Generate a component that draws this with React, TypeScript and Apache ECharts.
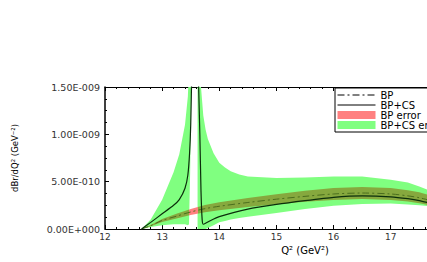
import React, { useEffect, useRef } from "react";
import * as echarts from "echarts";

// Values in units of 1e-9 GeV^-2
// BP central (dash-dot)
const bpX = [12.64, 12.8, 13.0, 13.25, 13.5, 13.75, 14.0, 14.5, 15.0, 15.5, 16.0, 16.5, 17.0, 17.3, 17.5, 17.7];
const bpY = [0, 0.035, 0.09, 0.135, 0.18, 0.215, 0.24, 0.28, 0.315, 0.345, 0.37, 0.38, 0.37, 0.35, 0.33, 0.3];
// BP error band
const bpErrLo = [0, 0.028, 0.074, 0.11, 0.148, 0.177, 0.198, 0.232, 0.262, 0.287, 0.307, 0.316, 0.307, 0.29, 0.273, 0.248];
const bpErrHi = [0, 0.042, 0.106, 0.16, 0.212, 0.253, 0.282, 0.328, 0.368, 0.403, 0.433, 0.444, 0.433, 0.41, 0.387, 0.352];

// BP+CS central (solid), left and right of the resonance
const csLeftX = [12.64, 12.8, 13.0, 13.2, 13.3, 13.4, 13.45, 13.48, 13.5, 13.52];
const csLeftY = [0, 0.07, 0.16, 0.25, 0.31, 0.43, 0.57, 0.8, 1.1, 1.7];
const csRightX = [13.63, 13.66, 13.68, 13.7, 13.72, 13.76, 13.85, 14.0, 14.5, 15.0, 15.5, 16.0, 16.5, 17.0, 17.3, 17.5, 17.7];
const csRightY = [1.7, 1.0, 0.4, 0.1, 0.05, 0.06, 0.09, 0.13, 0.21, 0.26, 0.3, 0.335, 0.35, 0.34, 0.32, 0.3, 0.27];

// BP+CS error band, left lobe
const gLeftX = [12.64, 12.8, 13.0, 13.2, 13.3, 13.4, 13.45, 13.47, 13.49, 13.51];
const gLeftLo = [0, 0.02, 0.04, 0.05, 0.05, 0.05, 0.04, 0.05, 0.6, 1.7];
const gLeftHi = [0, 0.1, 0.31, 0.6, 0.79, 1.1, 1.4, 1.7, 1.7, 1.7];
// BP+CS error band, right lobe
const gRightX = [13.62, 13.64, 13.68, 13.72, 13.76, 13.8, 13.9, 14.0, 14.1, 14.2, 14.35, 14.5, 15.0, 15.5, 16.0, 16.5, 17.0, 17.3, 17.5, 17.7];
const gRightLo = [0, 0, 0, 0, 0, 0.01, 0.04, 0.07, 0.085, 0.1, 0.115, 0.13, 0.17, 0.21, 0.245, 0.265, 0.27, 0.26, 0.25, 0.24];
const gRightHi = [1.7, 1.7, 1.5, 1.2, 1.05, 0.95, 0.8, 0.7, 0.65, 0.61, 0.575, 0.555, 0.54, 0.545, 0.555, 0.555, 0.52, 0.49, 0.45, 0.4];

const yTicks = [0, 0.5, 1.0, 1.5];
const xLabels = [12, 13, 14, 15, 16, 17, 18, 19];
const lastVisibleXLabel = 17;
// x-range where the BP error band lies outside the green band (drawn pink)
const bpErrGap = [13.475, 13.625];

const GREEN = "#80ff80";
const PINK = "#ff8080";
const OLIVE = "#86a83e";
const FONT = "DejaVu Sans";

const pairs = (xs: number[], ys: number[]) => xs.map((x, i) => [x, ys[i]]);

const sci = (v: number) => {
  if (Math.abs(v) < 1e-12) return "0.00E+000";
  const real = v * 1e-9;
  const e = Math.floor(Math.log10(real) + 1e-9);
  const m = real / Math.pow(10, e);
  return `${m.toFixed(2)}E${e < 0 ? "-" : "+"}${String(Math.abs(e)).padStart(3, "0")}`;
};

const band = (name: string, xs: number[], lo: number[], hi: number[], color: string, z: number, gradient = false) => ({
  name,
  type: "custom",
  coordinateSystem: "cartesian2d",
  clip: true,
  z,
  itemStyle: { color },
  data: xs.map((x, i) => [x, lo[i], hi[i]]),
  encode: { x: 0, y: [1, 2] },
  renderItem: (params: any, api: any) => {
    if (params.dataIndex !== 0) return null;
    const pts: number[][] = [];
    xs.forEach((x, i) => pts.push(api.coord([x, lo[i]])));
    for (let i = xs.length - 1; i >= 0; i--) pts.push(api.coord([xs[i], hi[i]]));
    let fill: any = color;
    if (gradient) {
      const x0 = api.coord([xs[0], 0])[0];
      const x1 = api.coord([xs[xs.length - 1], 0])[0];
      const a = (api.coord([bpErrGap[0], 0])[0] - x0) / (x1 - x0);
      const b = (api.coord([bpErrGap[1], 0])[0] - x0) / (x1 - x0);
      fill = new echarts.graphic.LinearGradient(x0, 0, x1, 0, [
        { offset: 0, color: OLIVE },
        { offset: a, color: OLIVE },
        { offset: a, color: PINK },
        { offset: b, color: PINK },
        { offset: b, color: OLIVE },
        { offset: 1, color: OLIVE },
      ], true);
    }
    return { type: "polygon", shape: { points: pts }, style: { fill, stroke: null } };
  },
});

export default function App() {
  const ref = useRef<HTMLDivElement>(null);
  useEffect(() => {
    if (!ref.current) return;
    const chart = echarts.init(ref.current, null, { renderer: "svg" });
    const baseX = {
      type: "value" as const,
      min: xLabels[0],
      max: xLabels[xLabels.length - 1],
      interval: 1,
      splitLine: { show: false },
      axisLine: { show: true, onZero: false, lineStyle: { color: "#000", width: 1 } },
      axisTick: { show: true, inside: true, length: 4, lineStyle: { color: "#000" } },
      minorTick: { show: true, splitNumber: 5, length: 2, lineStyle: { color: "#000" } },
    };
    const noDot = { color: "rgba(0,0,0,0)", borderWidth: 0 };
    chart.setOption({
      animation: false,
      backgroundColor: "#fff",
      grid: { left: 105, top: 87, height: 142, width: 400, containLabel: false, outerBoundsMode: "none" },
      legend: {
        orient: "vertical",
        left: 335,
        top: 88,
        itemWidth: 38,
        itemHeight: 8,
        itemGap: 0,
        padding: [2, 4, 2, 2],
        borderColor: "#000",
        borderWidth: 1,
        backgroundColor: "#fff",
        textStyle: { fontFamily: FONT, fontSize: 10, color: "#000", lineHeight: 8.5 },
        data: [
          { name: "BP", itemStyle: noDot, lineStyle: { color: "#000", type: [7, 3, 2, 3], width: 1 } },
          { name: "BP+CS", itemStyle: noDot, lineStyle: { color: "#000", type: "solid", width: 1 } },
          { name: "BP error", icon: "rect", itemStyle: { color: PINK } },
          { name: "BP+CS error", icon: "rect", itemStyle: { color: GREEN } },
        ],
      },
      xAxis: [
        {
          ...baseX,
          position: "bottom",
          name: "Q² (GeV²)",
          nameLocation: "middle",
          nameGap: 12,
          nameTextStyle: { fontFamily: FONT, fontSize: 10, color: "#000" },
          axisLabel: {
            fontFamily: FONT,
            fontSize: 9,
            color: "#333",
            margin: 3,
            formatter: (v: number) => (v <= lastVisibleXLabel ? String(v) : ""),
          },
        },
        { ...baseX, position: "top", axisLabel: { show: false } },
      ],
      yAxis: {
        type: "value",
        min: yTicks[0],
        max: yTicks[yTicks.length - 1],
        interval: 0.5,
        splitLine: { show: false },
        axisLine: { show: true, lineStyle: { color: "#000", width: 1.5 } },
        axisTick: { show: true, inside: true, length: 4, lineStyle: { color: "#000" } },
        minorTick: { show: true, splitNumber: 4, length: 2, lineStyle: { color: "#000" } },
        axisLabel: { fontFamily: FONT, fontSize: 9.5, color: "#333", margin: 5, formatter: sci },
        name: "dBr/dQ² (GeV⁻²)",
        nameLocation: "middle",
        nameGap: 86,
        nameTextStyle: { fontFamily: FONT, fontSize: 8.5, color: "#000" },
      },
      series: [
        band("BP+CS error", gLeftX, gLeftLo, gLeftHi, GREEN, 1),
        band("BP+CS error", gRightX, gRightLo, gRightHi, GREEN, 1),
        band("BP error", bpX, bpErrLo, bpErrHi, PINK, 2, true),
        { name: "BP", type: "line", symbol: "none", smooth: 0.3, lineStyle: { color: "#4a6e1e", width: 1, type: [7, 3, 2, 3] }, itemStyle: { color: "#000" }, data: pairs(bpX, bpY), z: 3 },
        { name: "BP+CS", type: "line", symbol: "none", smooth: 0.2, lineStyle: { color: "#0b2e0b", width: 1.2 }, itemStyle: { color: "#000" }, data: pairs(csLeftX, csLeftY), z: 4 },
        { name: "BP+CS", type: "line", symbol: "none", smooth: 0.2, lineStyle: { color: "#0b2e0b", width: 1.2 }, itemStyle: { color: "#000" }, data: pairs(csRightX, csRightY), z: 4 },
      ],
    });
    return () => chart.dispose();
  }, []);
  return <div ref={ref} style={{ position: "absolute", left: 0, top: 0, width: 427, height: 262 }} />;
}
